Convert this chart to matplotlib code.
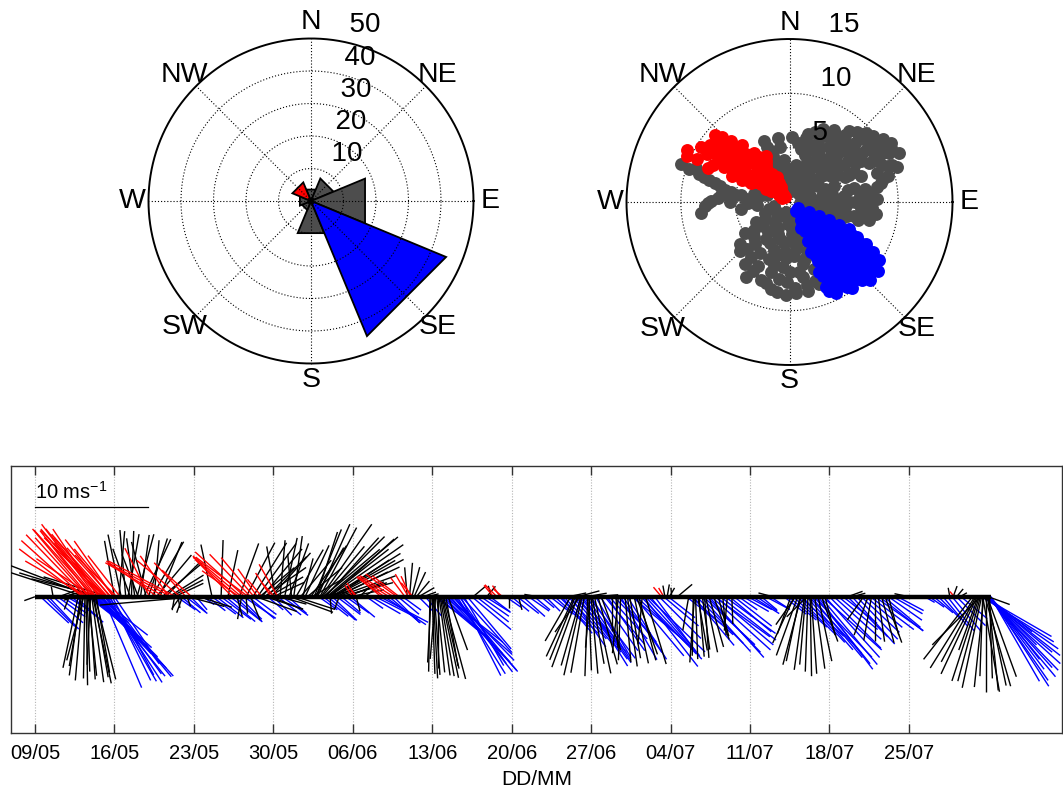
import numpy as np
import matplotlib
matplotlib.use('Agg')
import matplotlib.pyplot as plt
from matplotlib.collections import LineCollection

plt.rcParams['font.family'] = ['Liberation Sans', 'DejaVu Sans']
plt.rcParams['mathtext.fontset'] = 'custom'
plt.rcParams['mathtext.rm'] = 'Liberation Sans'
plt.rcParams['mathtext.it'] = 'Liberation Sans:italic'
plt.rcParams['mathtext.default'] = 'rm'

# ---------------- data ----------------
compass_labels = ['N', 'NE', 'E', 'SE', 'S', 'SW', 'W', 'NW']
compass_bearings = [0, 45, 90, 135, 180, 225, 270, 315]

# wind rose: percentage of time per 45-degree sector
rose_pct = [3.8, 7.5, 18.0, 45.0, 10.7, 3.0, 3.7, 6.2]
rose_rings = [10, 20, 30, 40, 50]

# speed/direction scatter (bearing deg, speed m/s)
speed_rings = [5, 10, 15]
scatter_gray = [
    # north-east cloud
    (10, 1.0), (50, 1.2), (95, 1.0), (340, 1.2), (355, 1.5), (30, 1.6), (70, 1.5), (105, 1.5),
    (345, 2.0), (15, 2.1), (45, 2.0), (75, 2.0), (100, 2.2),
    (340, 2.5), (0, 2.5), (28, 2.6), (55, 2.5), (88, 2.5), (108, 2.6),
    (340, 3.0), (0, 3.0), (20, 3.1), (40, 3.0), (60, 3.0), (80, 3.0), (100, 3.1),
    (345, 3.5), (10, 3.5), (30, 3.6), (50, 3.5), (70, 3.5), (90, 3.5), (106, 3.6),
    (338, 4.0), (352, 3.9), (24, 4.0), (38, 4.1), (52, 4.0), (80, 4.0), (95, 4.1), (108, 4.0),
    (340, 4.5), (18, 4.5), (32, 4.6), (45, 4.5), (58, 4.5), (70, 4.4), (88, 4.6), (102, 4.5),
    (340, 5.0), (350, 5.1), (12, 5.0), (24, 5.2), (36, 5.0), (48, 5.1), (60, 5.0), (84, 5.0),
    (96, 5.1), (108, 5.0),
    (338, 5.5), (8, 5.5), (20, 5.6), (30, 5.5), (42, 5.6), (54, 5.5), (66, 5.6), (78, 5.5),
    (90, 5.6), (104, 5.5),
    (337, 6.1), (350, 6.0), (2, 6.0), (14, 6.1), (26, 6.0), (36, 6.2), (46, 6.0), (56, 6.1),
    (66, 6.0), (78, 6.1), (90, 6.0), (102, 6.1),
    (15, 6.5), (25, 6.5), (35, 6.6), (45, 6.5), (55, 6.6), (65, 6.5), (85, 6.5), (95, 6.6),
    (105, 6.5),
    (20, 6.9), (30, 7.0), (40, 7.1), (50, 7.0), (60, 7.1), (70, 7.0), (80, 7.1), (90, 7.0),
    (100, 7.1),
    (25, 7.4), (35, 7.5), (44, 7.6), (52, 7.5), (60, 7.6), (84, 7.5), (94, 7.6), (103, 7.5),
    (32, 7.8), (40, 8.0), (48, 8.1), (56, 8.0), (64, 8.1), (80, 8.2), (88, 8.1), (98, 8.0),
    (40, 8.5), (48, 8.6), (56, 8.5), (64, 8.6), (72, 8.5), (78, 8.6),
    (44, 9.0), (52, 9.1), (60, 9.0), (68, 9.2), (76, 8.9),
    (48, 9.5), (56, 9.6), (62, 9.5), (70, 9.6), (75, 9.4),
    (52, 9.8), (58, 10.1), (64, 10.2), (70, 10.0), (56, 10.4), (62, 10.6),
    (60, 10.8), (66, 11.0), (72, 10.4),
    # southern cloud
    (200, 1.0), (170, 1.2), (230, 1.5), (190, 1.5), (220, 1.8), (185, 2.0), (160, 2.2),
    (215, 2.4), (245, 2.5), (175, 2.5), (205, 2.6), (235, 2.8), (165, 2.9),
    (175, 3.0), (200, 3.1), (228, 3.3), (215, 3.4), (195, 3.5), (162, 3.6), (180, 3.6),
    (188, 3.8), (240, 3.6), (170, 4.0), (212, 4.0), (205, 4.2), (232, 4.2),
    (172, 4.4), (198, 4.6), (225, 4.6), (185, 4.6), (160, 4.8), (235, 5.0), (220, 5.0),
    (175, 5.0), (184, 5.2), (195, 5.2), (210, 5.4), (165, 5.4), (200, 5.6),
    (168, 5.8), (194, 6.0), (222, 5.8), (230, 6.0), (186, 6.0), (215, 6.2),
    (180, 6.4), (206, 6.6), (160, 6.6), (172, 6.5), (195, 6.7), (225, 6.4),
    (170, 7.0), (188, 7.2), (216, 7.0), (208, 7.2), (182, 7.4), (200, 7.6), (162, 7.6),
    (176, 7.9), (196, 7.8), (168, 7.8), (192, 8.2), (210, 8.0), (160, 8.0), (168, 8.4),
    (182, 8.6), (188, 8.4), (176, 8.4),
    # western arm
    (289, 10.6), (290, 9.2), (288, 9.7), (287, 8.7), (286, 8.2), (285, 7.7), (284, 7.1),
    (283, 6.6), (281, 6.0), (280, 5.5), (276, 6.3), (273, 6.6), (271, 7.2), (269, 7.5),
    (267, 7.8), (263, 8.2), (278, 4.5), (277, 5.0), (274, 4.0), (268, 3.8), (283, 3.4),
    (280, 3.2), (285, 2.6), (288, 2.2), (255, 1.5), (250, 2.0), (265, 3.0), (262, 4.5),
    (270, 5.5),
]
scatter_red = [
    (300, 0.8), (315, 0.6), (310, 1.2), (305, 1.2), (320, 1.0), (325, 1.3), (305, 1.8),
    (312, 1.6), (315, 2.2), (325, 2.0), (330, 1.6), (332, 2.0), (300, 2.0),
    (298, 2.5), (310, 2.5), (320, 2.6), (308, 3.0), (318, 3.2), (328, 3.0), (333, 2.6),
    (303, 3.1), (313, 3.4), (324, 3.6), (300, 3.6), (296, 3.9), (312, 4.0), (306, 4.2),
    (322, 4.2), (330, 4.4), (318, 4.6), (328, 4.0), (298, 4.4),
    (295, 4.8), (305, 5.0), (316, 5.2), (326, 5.0), (333, 4.8), (310, 5.4), (322, 5.2),
    (300, 5.4), (294, 5.8), (302, 6.0), (310, 6.2), (318, 6.0), (324, 5.6),
    (298, 6.8), (306, 7.0), (314, 7.2), (320, 6.8), (306, 6.5), (314, 6.5),
    (296, 7.8), (303, 8.0), (310, 8.2), (316, 7.8), (300, 7.4), (308, 7.8),
    (300, 8.8), (306, 9.0), (312, 9.2), (308, 8.6), (314, 8.6), (293, 8.1),
    (295, 9.4), (302, 9.6), (294, 10.3), (297, 10.6),
]
scatter_blue = [
    (125, 1.0), (145, 1.0), (135, 1.5), (118, 2.0), (132, 2.0), (148, 2.0),
    (125, 2.5), (140, 2.5), (155, 2.6),
    (116, 3.0), (128, 3.0), (140, 3.0), (152, 3.0), (120, 3.5), (133, 3.5), (146, 3.5),
    (115, 4.0), (125, 4.0), (135, 4.0), (145, 4.0), (155, 4.0),
    (120, 4.5), (130, 4.5), (140, 4.5), (150, 4.5),
    (115, 5.0), (124, 5.0), (133, 5.0), (142, 5.0), (150, 5.0), (157, 5.0),
    (119, 5.5), (128, 5.5), (137, 5.5), (146, 5.5), (154, 5.5),
    (114, 6.0), (122, 6.0), (130, 6.0), (138, 6.0), (146, 6.0), (154, 6.0),
    (118, 6.5), (126, 6.5), (134, 6.5), (142, 6.5), (150, 6.5),
    (117, 7.0), (124, 7.0), (131, 7.0), (138, 7.0), (145, 7.0), (152, 7.0), (157, 7.0),
    (120, 7.5), (128, 7.5), (135, 7.5), (142, 7.5), (149, 7.5), (156, 7.5),
    (119, 8.0), (126, 8.0), (133, 8.0), (140, 8.0), (147, 8.0), (154, 8.0),
    (122, 8.5), (130, 8.5), (137, 8.5), (144, 8.5), (151, 8.5), (157, 8.5),
    (121, 9.0), (128, 9.0), (135, 9.0), (142, 9.0), (149, 9.0), (156, 9.0),
    (125, 9.4), (132, 9.4), (139, 9.4), (146, 9.4), (153, 9.4),
    (123, 9.8), (130, 9.8), (137, 9.8), (144, 9.8), (128, 10.3), (134, 10.3),
]

# stick plot: (days since 09/05, speed m/s, bearing towards deg)
sticks_may_a = [
    (0.0, 1.0, 250), (0.5, 3.4, 133), (0.9, 3.7, 135), (1.2, 3.9, 137), (1.6, 3.5, 131),
    (1.6, 0.9, 350), (2.0, 3.0, 126), (2.1, 1.9, 70), (2.2, 1.0, 95), (2.4, 2.6, 124),
    (2.5, 1.5, 75), (2.7, 0.8, 70), (2.8, 2.2, 120), (3.0, 1.2, 200), (3.2, 2.8, 128),
    (3.4, 0.9, 250), (3.6, 3.3, 133), (3.8, 1.4, 80),
    (3.8, 6.4, 192), (4.0, 7.0, 188), (4.1, 6.2, 190), (4.2, 7.4, 185), (4.3, 5.8, 195),
    (4.4, 7.2, 181), (4.5, 7.8, 179), (4.6, 6.6, 178), (4.7, 7.0, 174), (4.8, 7.3, 176),
    (4.9, 6.0, 183), (5.0, 7.6, 172), (5.1, 7.8, 168), (5.2, 7.2, 170), (5.3, 7.5, 166),
    (5.4, 6.8, 170),
    (4.7, 3.0, 128), (4.9, 4.5, 130), (5.0, 4.0, 125), (5.1, 5.6, 133), (5.2, 6.2, 134),
    (5.3, 6.7, 132), (5.4, 7.0, 136), (5.5, 7.5, 135), (5.6, 5.5, 128), (5.7, 8.6, 137),
    (5.8, 9.0, 141), (5.9, 9.4, 138), (6.0, 8.7, 157), (6.1, 9.2, 140), (6.2, 8.4, 144),
    (6.3, 9.0, 147), (6.4, 8.6, 150), (6.5, 7.4, 143), (6.6, 8.2, 154), (6.8, 7.8, 152),
    (7.0, 6.5, 146),
    (4.2, 7.0, 307), (4.3, 7.4, 312), (4.5, 7.6, 316), (4.6, 6.3, 300), (4.7, 7.0, 318),
    (4.8, 7.8, 320), (5.0, 7.4, 322), (5.1, 6.0, 304), (5.2, 7.9, 318), (5.3, 6.8, 320),
    (5.4, 8.0, 323), (5.6, 7.2, 326), (5.7, 7.9, 319), (5.8, 7.7, 321), (6.0, 8.0, 317),
    (6.1, 7.2, 320), (6.2, 7.5, 314), (6.3, 6.6, 316), (6.4, 7.0, 318), (6.6, 6.4, 322),
    (6.7, 5.8, 318), (6.9, 6.0, 325), (7.0, 5.5, 320), (7.2, 5.2, 315), (7.5, 4.6, 322),
    (4.4, 7.6, 288), (5.0, 8.0, 291), (5.5, 7.2, 287), (6.0, 6.5, 284), (6.5, 6.0, 287),
]
sticks_may_b = [
    (7.0, 5.0, 350), (7.4, 5.8, 5), (7.6, 5.6, 348), (8.0, 5.9, 355), (8.2, 5.6, 10),
    (8.4, 4.5, 340), (8.5, 5.8, 2), (8.8, 5.2, 352), (9.0, 5.7, 15), (9.1, 4.0, 339),
    (9.3, 5.5, 8), (9.6, 5.6, 25), (9.8, 5.0, 345), (10.0, 5.4, 18), (10.3, 5.6, 30),
    (10.5, 5.0, 5), (10.7, 4.8, 40), (11.0, 5.2, 22), (11.2, 4.6, 50), (11.5, 4.2, 45),
    (11.8, 3.6, 58), (12.0, 3.2, 62), (12.3, 2.8, 65),
    (10.1, 4.8, 333), (10.8, 5.5, 305), (11.4, 6.0, 300), (11.8, 4.4, 325), (12.0, 6.3, 298),
    (12.4, 6.7, 298), (12.8, 5.0, 310), (13.3, 4.1, 317), (13.8, 3.5, 312),
    (13.0, 4.5, 268), (14.1, 8.4, 265), (13.5, 3.3, 105), (14.5, 3.0, 108),
    (12.3, 1.2, 190), (12.6, 1.0, 170), (12.8, 1.3, 215), (13.0, 1.5, 200), (13.4, 0.9, 160),
    (12.5, 2.0, 125), (12.9, 2.2, 130), (13.3, 2.4, 128), (13.7, 1.9, 135), (14.2, 1.5, 140),
]
sticks_may_c = [
    (14.8, 1.2, 125), (15.2, 2.0, 128), (15.6, 2.6, 126), (16.0, 3.0, 128), (16.4, 3.3, 127),
    (16.8, 3.4, 130), (17.2, 3.6, 128), (17.6, 3.2, 132), (18.0, 2.8, 135), (18.4, 3.4, 124),
    (18.8, 3.0, 130), (19.2, 2.6, 127),
    (17.8, 1.8, 165), (18.2, 2.0, 190), (18.6, 1.5, 175), (19.0, 2.2, 158),
    (17.4, 4.6, 315), (17.8, 5.2, 312), (18.0, 4.0, 305), (18.2, 5.6, 310), (18.5, 5.9, 312),
    (18.8, 5.8, 307), (19.0, 5.2, 316), (19.3, 4.5, 320), (19.6, 3.0, 325), (20.0, 2.0, 320),
    (20.8, 2.5, 327), (21.1, 1.6, 318), (21.4, 3.3, 330),
    (15.6, 4.7, 348), (16.4, 5.0, 2), (17.0, 4.2, 12), (18.0, 5.0, 20), (18.6, 5.4, 28),
    (19.2, 5.6, 32), (19.6, 5.8, 36), (19.8, 4.0, 50), (20.0, 5.5, 40), (20.2, 4.5, 55),
    (20.4, 5.0, 45), (20.6, 3.5, 60), (20.8, 5.2, 42), (21.0, 3.0, 65),
    (19.5, 3.8, 110), (20.3, 3.5, 108), (20.8, 3.0, 112),
]
sticks_jun_a = [
    (21.2, 4.5, 350), (21.5, 2.5, 105), (21.6, 5.0, 5), (22.0, 5.3, 12), (22.4, 5.0, 20),
    (22.5, 4.0, 110), (22.6, 3.8, 355), (22.8, 5.4, 8), (23.0, 4.8, 30), (23.0, 3.6, 108),
    (23.4, 4.2, 40), (23.6, 3.5, 15), (23.8, 5.0, 25), (24.0, 4.0, 50), (24.3, 5.5, 35),
    (24.4, 3.2, 60), (24.6, 6.4, 22), (24.7, 5.0, 30), (24.8, 6.0, 18), (24.9, 7.0, 24),
    (25.0, 3.0, 80), (25.1, 6.9, 28), (25.2, 7.8, 35), (25.3, 5.8, 40), (25.4, 6.5, 50),
    (25.5, 7.5, 45), (25.6, 7.0, 42), (25.7, 8.2, 50), (25.8, 6.8, 52), (25.9, 8.0, 55),
    (26.0, 7.6, 48), (26.1, 7.2, 58), (26.2, 6.4, 60), (26.3, 7.0, 62), (26.4, 5.8, 56),
    (26.5, 6.2, 65), (26.6, 5.0, 64), (26.7, 5.4, 70), (26.9, 4.8, 75), (27.2, 4.0, 72),
    (27.5, 3.5, 68), (27.8, 3.0, 78),
    (20.5, 1.8, 130), (21.0, 2.3, 135), (21.4, 2.6, 128), (21.8, 2.8, 126), (22.3, 2.2, 132),
    (25.0, 2.0, 125), (25.4, 2.8, 128), (25.8, 3.2, 130), (26.2, 3.0, 134), (26.6, 2.6, 127),
    (27.0, 2.2, 130), (27.4, 2.5, 125), (27.8, 2.8, 130),
    (26.0, 1.5, 175), (26.8, 1.2, 200),
]
sticks_jun_b = [
    (28.0, 1.2, 325), (28.2, 1.4, 330), (28.4, 1.0, 318), (30.5, 2.4, 310), (30.8, 3.0, 305),
    (31.2, 3.3, 303), (31.6, 3.5, 302), (31.9, 3.4, 306), (32.1, 3.0, 308), (32.6, 2.1, 323),
    (32.9, 2.3, 330), (33.1, 2.0, 335), (33.3, 1.6, 320),
    (28.3, 1.3, 165), (28.6, 1.6, 45), (29.0, 1.2, 55), (32.8, 2.6, 355), (33.0, 3.0, 5),
    (33.2, 2.7, 15), (33.4, 2.4, 25), (33.6, 1.8, 40), (33.8, 1.6, 60), (34.2, 1.2, 70),
    (34.6, 1.0, 75),
    (29.2, 1.8, 125), (29.6, 3.0, 120), (30.0, 4.2, 117), (30.4, 4.8, 118), (30.8, 4.4, 124),
    (31.2, 3.6, 130), (31.6, 3.2, 135), (32.0, 2.4, 130), (32.4, 2.0, 126), (33.8, 1.8, 135),
    (34.4, 2.2, 140),
]
sticks_jun_c = [
    (34.8, 6.6, 181), (34.9, 5.8, 183), (35.0, 6.8, 178), (35.1, 7.2, 177), (35.2, 6.9, 176),
    (35.3, 5.5, 185), (35.4, 6.7, 174), (35.5, 6.3, 180), (35.6, 7.0, 172), (35.7, 7.1, 170),
    (35.8, 7.3, 168), (35.9, 6.5, 167), (36.0, 7.5, 165), (36.2, 6.2, 170), (36.4, 5.0, 160),
    (35.2, 3.0, 125), (35.5, 4.5, 130), (35.8, 6.0, 132), (36.0, 7.2, 134), (36.1, 6.5, 128),
    (36.3, 8.0, 136), (36.4, 7.6, 132), (36.6, 8.7, 138), (36.8, 7.8, 136), (36.9, 8.4, 142),
    (37.0, 8.6, 140), (37.2, 8.0, 148), (37.4, 7.2, 145), (37.5, 7.8, 153), (37.6, 6.6, 138),
    (37.8, 7.0, 150), (38.1, 6.0, 140), (38.5, 4.5, 130), (38.9, 3.6, 128), (39.3, 3.0, 125),
    (39.7, 2.6, 122), (40.1, 2.2, 127), (41.5, 1.6, 125), (42.0, 2.0, 130),
    (40.4, 1.3, 320), (40.7, 1.5, 315), (41.0, 1.2, 325), (41.2, 1.0, 310),
    (38.6, 1.4, 50), (39.8, 1.2, 40), (40.2, 1.0, 345), (41.8, 1.0, 180),
]
sticks_jun_d = [
    (42.5, 2.4, 128), (43.0, 2.6, 132), (43.5, 2.2, 125), (44.0, 1.8, 130), (44.6, 1.5, 130),
    (45.0, 1.8, 135), (45.4, 2.5, 128), (45.8, 3.2, 132), (46.2, 3.8, 135), (46.4, 4.2, 140),
    (46.6, 4.4, 137), (47.0, 5.0, 138), (47.2, 5.4, 145), (47.4, 5.6, 140), (47.6, 6.0, 138),
    (47.8, 6.2, 142), (48.0, 6.4, 140), (48.2, 6.8, 144), (48.4, 7.2, 148), (48.6, 7.0, 146),
    (48.8, 6.8, 143), (49.0, 6.6, 148), (49.4, 6.2, 150), (49.8, 5.8, 145),
    (42.6, 1.2, 165), (44.3, 1.2, 280), (47.0, 1.6, 78), (47.8, 2.0, 75), (48.6, 1.8, 80),
    (49.4, 2.0, 85),
    (47.2, 4.5, 210), (47.5, 5.8, 205), (47.6, 6.0, 202), (47.8, 6.6, 200), (48.0, 3.8, 215),
    (48.1, 6.3, 196), (48.2, 7.1, 193), (48.4, 6.8, 190), (48.7, 7.0, 182), (48.8, 6.5, 178),
    (48.9, 4.5, 185), (49.0, 6.8, 175), (49.1, 6.0, 170), (49.3, 6.9, 168), (49.6, 6.2, 164),
    (49.9, 5.0, 160),
]
sticks_jul_a = [
    (50.2, 5.5, 140), (50.4, 5.8, 145), (50.6, 5.0, 138), (51.0, 4.6, 135), (51.4, 5.2, 140),
    (51.6, 6.4, 150), (51.8, 6.0, 145), (52.2, 6.5, 148), (52.6, 5.5, 130), (52.8, 6.8, 140),
    (53.0, 6.2, 133), (53.4, 7.0, 136), (53.6, 7.8, 142), (53.8, 7.4, 138), (54.0, 7.0, 134),
    (54.2, 6.8, 140), (54.6, 6.0, 143), (55.0, 5.2, 135), (55.4, 4.0, 130), (55.8, 3.0, 128),
    (50.8, 3.0, 180), (51.2, 4.5, 178), (51.4, 5.0, 186), (51.6, 5.6, 182), (52.0, 5.8, 175),
    (52.2, 6.2, 172), (52.4, 5.5, 170), (52.8, 6.0, 168), (53.0, 5.4, 160), (53.2, 5.8, 165),
    (53.5, 4.2, 185), (53.8, 6.2, 163),
    (55.2, 1.1, 320), (55.4, 0.9, 330),
    (55.5, 1.0, 350), (55.7, 1.1, 10), (55.9, 0.9, 30), (56.1, 0.8, 355),
]
sticks_jul_b = [
    (56.6, 1.7, 50), (57.6, 3.0, 190), (58.0, 5.2, 181), (58.1, 5.8, 184), (58.2, 5.5, 178),
    (58.4, 4.8, 170), (58.5, 5.3, 175), (58.8, 4.7, 172), (59.0, 5.4, 176), (59.1, 5.0, 168),
    (59.4, 4.6, 164), (59.8, 4.0, 160), (60.2, 3.6, 165), (60.6, 3.4, 175), (61.0, 3.0, 185),
    (61.4, 2.4, 178),
    (57.4, 4.0, 128), (57.8, 5.0, 132), (58.0, 5.6, 140), (58.3, 5.8, 135), (58.7, 6.5, 138),
    (58.9, 6.2, 133), (59.2, 6.8, 136), (59.4, 7.2, 138), (59.6, 7.0, 132), (59.9, 6.0, 126),
    (60.0, 6.6, 130), (60.4, 6.2, 128), (60.8, 5.5, 126), (61.2, 4.8, 130), (61.6, 4.2, 128),
    (62.0, 2.0, 125), (62.4, 2.6, 120), (62.8, 2.4, 118),
]
sticks_jul_c = [
    (63.2, 2.8, 122), (63.6, 2.2, 125), (64.0, 1.8, 130), (64.4, 2.4, 118), (64.8, 2.0, 123),
    (66.0, 2.5, 128), (66.4, 3.2, 130), (66.8, 4.0, 132), (67.2, 4.8, 135), (67.4, 5.2, 132),
    (67.6, 5.5, 137), (68.0, 6.2, 139), (68.2, 6.8, 137), (68.4, 7.0, 140), (68.6, 7.4, 136),
    (68.8, 7.6, 141), (69.0, 8.0, 143), (69.2, 7.8, 140), (69.4, 7.0, 132), (69.6, 7.2, 138),
    (65.0, 1.3, 285), (66.6, 3.5, 200), (66.9, 4.5, 205), (67.0, 3.0, 215), (67.2, 5.5, 200),
    (67.4, 5.8, 192), (67.5, 6.2, 195), (67.8, 6.5, 188), (67.9, 6.0, 185), (68.0, 2.5, 225),
    (68.1, 6.6, 182), (68.3, 7.0, 179), (68.4, 6.8, 176), (68.7, 6.4, 172), (69.0, 5.8, 168),
    (69.3, 4.2, 160), (69.6, 3.5, 165),
]
sticks_jul_d = [
    (70.0, 6.4, 135), (70.4, 5.6, 132), (70.8, 4.5, 130), (71.2, 3.8, 128), (71.6, 5.0, 135),
    (72.0, 5.6, 138), (72.4, 5.2, 136), (72.8, 4.6, 133), (73.2, 4.2, 130), (73.6, 4.8, 127),
    (74.0, 5.2, 125), (74.4, 4.9, 128), (74.8, 4.2, 130), (75.2, 3.6, 125), (75.6, 3.0, 120),
    (76.0, 2.6, 118),
    (71.6, 1.4, 70), (72.0, 1.2, 75), (73.0, 2.5, 215), (73.4, 3.6, 200), (73.7, 3.9, 190),
    (74.0, 3.9, 180), (74.3, 4.0, 172), (74.6, 4.2, 165), (74.9, 4.3, 160), (75.2, 3.5, 165),
    (77.0, 1.3, 282), (77.4, 1.0, 275),
]
sticks_jul_e = [
    (78.4, 1.0, 120), (78.8, 1.6, 125), (79.2, 2.2, 130), (79.6, 2.8, 135), (80.0, 3.4, 140),
    (80.4, 3.8, 142), (80.8, 4.0, 140), (81.2, 3.6, 135), (81.6, 3.0, 130),
    (80.6, 0.8, 350), (80.9, 1.0, 20), (81.2, 0.9, 40), (81.5, 0.7, 60), (81.0, 0.6, 320),
    (82.6, 7.0, 218), (82.8, 7.4, 212), (82.9, 6.5, 208), (83.0, 7.5, 205), (83.1, 5.0, 200),
    (83.2, 7.8, 198), (83.3, 6.0, 225), (83.3, 7.7, 195), (83.4, 8.2, 192), (83.5, 8.5, 170),
    (83.5, 7.0, 182), (83.6, 8.0, 186), (83.7, 8.2, 164), (83.8, 8.4, 180), (83.9, 7.5, 160),
    (83.9, 8.0, 168), (84.0, 8.3, 174), (84.1, 7.2, 178), (84.0, 2.0, 110),
    (83.4, 7.5, 122), (83.5, 7.0, 120), (83.6, 8.0, 125), (83.7, 8.4, 128), (83.8, 8.8, 132),
    (83.8, 7.6, 130), (83.9, 9.0, 136), (84.0, 9.2, 140), (84.0, 8.4, 138), (84.1, 9.0, 145),
    (84.1, 8.0, 143), (84.2, 8.6, 150), (84.2, 9.4, 147), (84.2, 7.0, 142), (84.0, 6.0, 135),
    (83.9, 5.0, 128),
]

tick_days = [0, 7, 14, 21, 28, 35, 42, 49, 56, 63, 70, 77]
tick_labels = ['09/05', '16/05', '23/05', '30/05', '06/06', '13/06', '20/06',
               '27/06', '04/07', '11/07', '18/07', '25/07']
scale_speed = 10

# ---------------- styling ----------------
GRAY = '#4d4d4d'
RED = '#ff0000'
BLUE = '#0000ff'
W, H = 1063, 798
fig = plt.figure(figsize=(W / 100, H / 100), dpi=100)


def sector_color(b):
    b = b % 360
    if 112.5 <= b < 157.5:
        return BLUE
    if 292.5 <= b < 337.5:
        return RED
    return GRAY


def px_axes(cx, cy, half):
    return fig.add_axes([(cx - half) / W, (H - cy - half) / H, 2 * half / W, 2 * half / H])


def polar_frame(ax, rings, grid_z):
    rmax = rings[-1]
    rinc = rings[1] - rings[0]
    th = np.linspace(0, 2 * np.pi, 500)
    dot = (0, (1, 1.8))
    for r in rings[:-1]:
        ax.plot(r * np.cos(th), r * np.sin(th), color='k', lw=0.8, ls=dot, zorder=grid_z)
    for b in compass_bearings:
        br = np.radians(b)
        ax.plot([0, rmax * np.sin(br)], [0, rmax * np.cos(br)], color='k', lw=0.8,
                ls=dot, zorder=grid_z)
    ax.plot(rmax * np.cos(th), rmax * np.sin(th), color='k', lw=1.4, zorder=grid_z + 1)
    a = np.radians(82)
    for r in rings:
        rr = r + rinc / 20
        ax.text(rr * np.cos(a), rr * np.sin(a), '  %d' % r, ha='left', va='bottom',
                fontsize=20, zorder=10)
    for lab, b in zip(compass_labels, compass_bearings):
        br = np.radians(b)
        ax.text(1.1 * rmax * np.sin(br), 1.1 * rmax * np.cos(br), lab, ha='center',
                va='center', fontsize=20.5)


# ---------------- wind rose ----------------
ax1 = px_axes(311, 201, 200)
R1 = 200 / (162.5 / rose_rings[-1])
ax1.set_xlim(-R1, R1)
ax1.set_ylim(-R1, R1)
ax1.axis('off')
for b, v in zip(compass_bearings, rose_pct):
    b0, b1 = np.radians(b - 22.5), np.radians(b + 22.5)
    xs = [0, v * np.sin(b0), v * np.sin(b1)]
    ys = [0, v * np.cos(b0), v * np.cos(b1)]
    ax1.fill(xs, ys, facecolor=sector_color(b), edgecolor='k', lw=1.3,
             zorder=3 if sector_color(b) != GRAY else 2)
polar_frame(ax1, rose_rings, 4)

# ---------------- speed scatter ----------------
ax2 = px_axes(789.5, 202, 200)
R2 = 200 / (163 / speed_rings[-1])
ax2.set_xlim(-R2, R2)
ax2.set_ylim(-R2, R2)
ax2.axis('off')
polar_frame(ax2, speed_rings, 1)
for pts, col, z in [(scatter_gray, GRAY, 3), (scatter_red, RED, 4), (scatter_blue, BLUE, 4)]:
    b = np.radians([p[0] for p in pts])
    r = np.array([p[1] for p in pts])
    ax2.plot(r * np.sin(b), r * np.cos(b), 'o', color=col, ms=9.3, mec='none', zorder=z)

# ---------------- stick plot ----------------
ax3 = fig.add_axes([11 / W, (H - 732.5) / H, 1050.7 / W, 266.5 / H])
ax3.set_xlim(-2.11, 90.46)
ax3.set_ylim(-11.96, 11.52)
all_sticks = (sticks_may_a + sticks_may_b + sticks_may_c + sticks_jun_a + sticks_jun_b +
              sticks_jun_c + sticks_jun_d + sticks_jul_a + sticks_jul_b + sticks_jul_c +
              sticks_jul_d + sticks_jul_e)
groups = {BLUE: [], GRAY: [], RED: []}
for t, s, d in all_sticks:
    u = s * np.sin(np.radians(d))
    v = s * np.cos(np.radians(d))
    groups[sector_color(d)].append([(t, 0), (t + u, v)])
for col, z in [(BLUE, 2), (GRAY, 3), (RED, 4)]:
    c = 'k' if col == GRAY else col
    ax3.add_collection(LineCollection(groups[col], colors=c, linewidths=1.0, zorder=z))
ts = [s[0] for s in all_sticks]
ax3.plot([min(ts), max(ts)], [0, 0], color='k', lw=3.2, solid_capstyle='butt', zorder=5)

# scale bar
ax3.plot([0, scale_speed], [7.93, 7.93], color='k', lw=0.9, zorder=5)
ax3.text(0, 8.25, '%d ms$^{-1}$' % scale_speed, ha='left', va='bottom', fontsize=14.5)

ax3.set_xticks(tick_days)
ax3.set_xticklabels(tick_labels)
ax3.set_yticks([])
ax3.tick_params(axis='x', direction='in', length=6.5, width=1, top=True,
                labelsize=14.5, pad=8, color='#333333')
ax3.grid(axis='x', color='#b5b5b5', ls=(0, (1, 1.5)), lw=0.8, zorder=0)
ax3.set_axisbelow(True)
for sp in ax3.spines.values():
    sp.set_color('#333333')
    sp.set_linewidth(1.0)
ax3.set_xlabel('DD/MM', fontsize=15, labelpad=5)

fig.savefig('out.png', dpi=100)
